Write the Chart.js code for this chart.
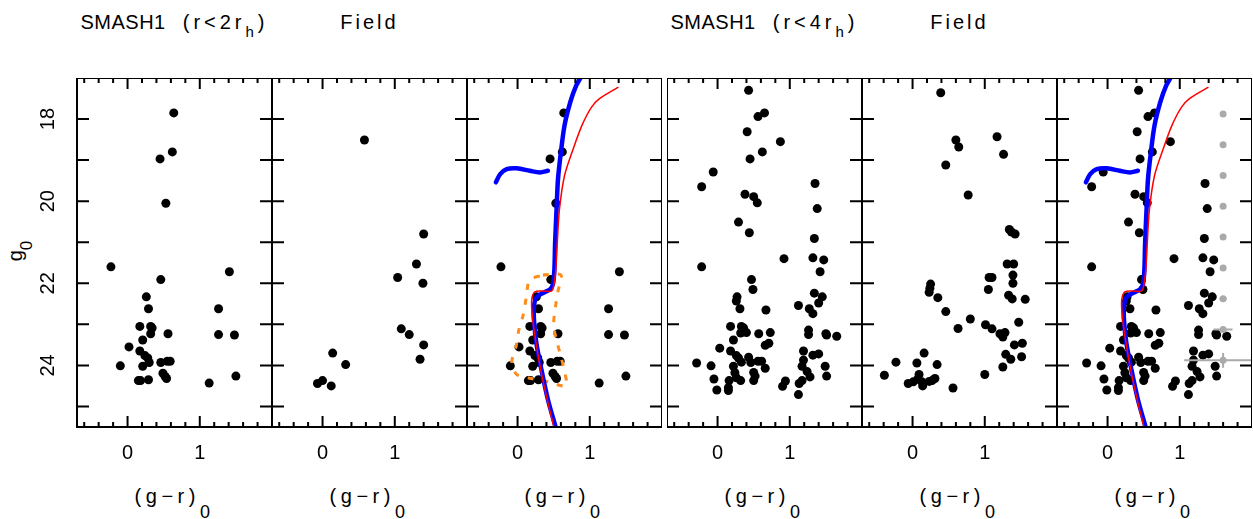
<!DOCTYPE html>
<html>
<head>
<meta charset="utf-8">
<title>SMASH1 CMDs</title>
<script src="https://cdn.jsdelivr.net/npm/chart.js@4.4.1/dist/chart.umd.min.js"></script>
<style>
  body { margin: 0; background: #fff; }
  #fig { position: relative; width: 1253px; height: 519px; overflow: hidden; font-family: "Liberation Sans", Arial, sans-serif; color: #000; }
  .panel { position: absolute; top: 78px; height: 389px; }
  .title, .xlab { position: absolute; width: 195px; text-align: center; font-size: 20px; line-height: 20px; white-space: nowrap; }
  .title { top: 12px; letter-spacing: 3px; }
  .title .nm { letter-spacing: 0.5px; margin-right: 17px; }
  .title .rr { letter-spacing: 4px; }
  .xlab { top: 486px; letter-spacing: 4.5px; }
  .title sub { font-size: 15px; vertical-align: -8px; line-height: 0; }
  .xlab sub { font-size: 18px; vertical-align: -15px; line-height: 0; }
  .ylab { position: absolute; left: -4px; top: 240px; width: 40px; text-align: center; font-size: 20px; line-height: 20px; transform: rotate(-90deg); }
  .ylab sub { font-size: 17px; vertical-align: -10px; line-height: 0; }
</style>
</head>
<body>
<div id="fig">
  <div class="ylab">g<sub>0</sub></div>
</div>
<script>
// stars [(g-r)0, g0]
const smashInner = [
  [0.64, 17.85], [0.62, 18.80], [0.45, 18.97], [0.53, 20.05], [-0.23, 21.60], [1.41, 21.72],
  [0.46, 21.91], [0.26, 22.33], [0.29, 22.62], [1.26, 22.62], [0.17, 23.05], [0.32, 23.05],
  [0.34, 23.09], [0.32, 23.23], [0.56, 23.23], [1.26, 23.25], [1.48, 23.26], [0.21, 23.38],
  [0.02, 23.55], [0.17, 23.65], [0.24, 23.76], [0.28, 23.82], [0.30, 23.93], [0.46, 23.93],
  [0.55, 23.90], [0.59, 23.90], [-0.10, 24.01], [0.21, 24.02], [0.49, 24.19], [0.52, 24.27],
  [0.54, 24.32], [1.50, 24.26], [0.15, 24.37], [0.18, 24.37], [0.29, 24.35], [1.13, 24.43]
];
const fieldInner = [
  [0.58, 18.51], [1.40, 20.80], [1.30, 21.53], [1.04, 21.86], [1.39, 22.00], [1.09, 23.11],
  [1.20, 23.25], [1.40, 23.50], [1.35, 23.85], [0.14, 23.70], [0.32, 23.98], [-0.07, 24.44],
  [0.00, 24.37], [0.12, 24.50]
];
const smashOuter = [
  [0.43, 17.30], [0.65, 17.85], [0.56, 17.94], [0.41, 18.31], [0.87, 18.55], [0.62, 18.80],
  [0.45, 18.97], [-0.06, 19.29], [-0.22, 19.65], [1.35, 19.57], [0.38, 19.83], [0.50, 19.89],
  [0.55, 20.04], [1.38, 20.18], [0.29, 20.51], [0.44, 20.77], [1.34, 20.91], [0.92, 21.40],
  [1.32, 21.38], [1.47, 21.43], [-0.22, 21.60], [1.42, 21.72], [0.47, 21.91], [0.49, 22.15],
  [1.34, 22.24], [1.45, 22.33], [0.27, 22.33], [0.26, 22.43], [1.40, 22.48], [1.12, 22.54],
  [0.31, 22.62], [1.27, 22.62], [0.67, 22.65], [1.32, 22.74], [0.18, 23.05], [0.33, 23.05],
  [0.36, 23.09], [0.32, 23.21], [0.40, 23.20], [0.57, 23.23], [0.73, 23.20], [1.26, 23.14],
  [1.26, 23.25], [1.50, 23.23], [1.51, 23.26], [1.65, 23.29], [0.22, 23.38], [0.03, 23.58],
  [0.71, 23.46], [0.66, 23.51], [0.18, 23.65], [1.19, 23.65], [1.32, 23.75], [1.40, 23.72],
  [0.26, 23.76], [0.29, 23.82], [0.43, 23.80], [0.33, 23.92], [0.46, 23.93], [0.56, 23.90],
  [0.61, 23.90], [1.19, 23.87], [-0.29, 23.94], [-0.09, 24.01], [0.22, 24.02], [0.66, 24.07],
  [1.17, 24.02], [1.49, 24.02], [0.24, 24.18], [0.50, 24.17], [1.24, 24.15], [0.52, 24.26],
  [1.28, 24.28], [1.51, 24.26], [-0.05, 24.33], [0.26, 24.30], [0.32, 24.37], [0.16, 24.37],
  [0.50, 24.37], [1.17, 24.37], [1.13, 24.44], [0.94, 24.38], [0.90, 24.51], [0.15, 24.54],
  [-0.01, 24.60], [0.15, 24.61], [1.12, 24.71]
];
const fieldOuter = [
  [0.39, 17.36], [0.60, 18.51], [0.64, 18.68], [1.17, 18.43], [1.26, 18.86], [0.46, 19.12],
  [0.77, 19.85], [1.34, 20.69], [1.37, 20.75], [1.42, 20.80], [1.31, 21.53], [1.40, 21.53],
  [1.39, 21.80], [1.39, 22.00], [1.06, 21.86], [1.10, 21.86], [1.05, 22.15], [0.25, 22.02],
  [0.24, 22.12], [0.23, 22.22], [0.35, 22.35], [1.33, 22.29], [1.38, 22.38], [1.56, 22.39],
  [0.46, 22.69], [0.80, 22.87], [0.63, 23.10], [1.01, 23.01], [1.10, 23.11], [1.21, 23.23],
  [1.28, 23.20], [1.25, 23.31], [1.47, 22.95], [1.41, 23.50], [1.52, 23.46], [0.16, 23.70],
  [1.29, 23.73], [1.36, 23.85], [1.51, 23.79], [-0.23, 23.92], [0.06, 23.94], [0.34, 23.98],
  [1.25, 24.04], [-0.39, 24.24], [0.09, 24.22], [0.07, 24.34], [-0.06, 24.44], [0.01, 24.40],
  [0.14, 24.50], [0.13, 24.40], [0.23, 24.39], [0.27, 24.37], [0.31, 24.32], [0.56, 24.55],
  [1.00, 24.22]
];

// isochrones and selection box
const isoBlue = [
  [0.53, 25.52], [0.42, 24.83], [0.33, 24.10], [0.26, 23.45], [0.23, 22.96], [0.225, 22.63],
  [0.24, 22.43], [0.28, 22.31], [0.38, 22.21], [0.45, 22.15], [0.49, 22.02], [0.51, 21.66],
  [0.52, 21.01], [0.54, 20.20], [0.56, 19.46], [0.60, 18.81], [0.65, 18.16], [0.73, 17.59],
  [0.81, 17.19], [0.89, 16.94]
];
const isoBlueHB = [
  [-0.30, 19.54], [-0.24, 19.34], [-0.15, 19.22], [-0.01, 19.20], [0.17, 19.26], [0.31, 19.30],
  [0.42, 19.26]
];
const isoRed = [
  [0.50, 25.48], [0.41, 24.83], [0.32, 24.10], [0.24, 23.28], [0.20, 22.72], [0.197, 22.39],
  [0.24, 22.21], [0.35, 22.19], [0.47, 22.19], [0.50, 22.07], [0.53, 21.66], [0.55, 21.01],
  [0.58, 20.20], [0.65, 19.38], [0.77, 18.73], [0.89, 18.16], [1.02, 17.72], [1.13, 17.51],
  [1.39, 17.23]
];
const selBox = [
  [0.35, 21.80], [0.60, 21.80], [0.56, 22.19], [0.52, 22.63], [0.50, 23.04], [0.55, 23.45],
  [0.61, 23.85], [0.66, 24.22], [0.67, 24.50], [0.42, 24.40], [0.22, 24.33], [-0.01, 24.22],
  [-0.08, 23.93], [-0.02, 23.53], [0.02, 23.12], [0.08, 22.76], [0.12, 22.35], [0.17, 21.92],
  [0.35, 21.80]
];

// photometric errors
const errMag = [17.875, 18.625, 19.375, 20.125, 20.875, 21.625, 22.375, 23.125, 23.875];
const errColor = [0.01, 0.01, 0.01, 0.03, 0.01, 0.04, 0.05, 0.13, 0.54];
const errMagSize = [0.01, 0.01, 0.01, 0.02, 0.02, 0.03, 0.05, 0.07, 0.18];
const errX = 1.6;

const xTickLabels = [0, 1];
const yTickLabels = [18, 20, 22, 24];

const FONT = '"Liberation Sans", Arial, sans-serif';
const PW = 195, PH = 349, YAXW = 60;

const panels = [
  { left: 77, stars: smashInner, title: '<span class="nm">SMASH1</span><span class="rr">(r&lt;2r<sub>h</sub>)</span>', yAxis: true },
  { left: 272, stars: fieldInner, title: 'Field' },
  { left: 467, stars: smashInner, iso: true, box: true },
  { left: 667, stars: smashOuter, title: '<span class="nm">SMASH1</span><span class="rr">(r&lt;4r<sub>h</sub>)</span>' },
  { left: 862, stars: fieldOuter, title: 'Field' },
  { left: 1057, stars: smashOuter, iso: true, errors: true }
];

const pts = (list) => list.map(([c, g]) => ({ x: c, y: g }));

const framePlugin = {
  id: 'frame',
  afterDraw(chart) {
    const { ctx, chartArea: a, scales: { x, y } } = chart;
    ctx.save();
    ctx.strokeStyle = '#000';
    ctx.lineWidth = 2;
    ctx.strokeRect(a.left, a.top, a.right - a.left, a.bottom - a.top);
    ctx.beginPath();
    for (let i = -3; i <= 10; i++) {
      const px = x.getPixelForValue(i * 0.2);
      const len = i % 5 === 0 ? 11 : 5;
      ctx.moveTo(px, a.bottom); ctx.lineTo(px, a.bottom - len);
      ctx.moveTo(px, a.top); ctx.lineTo(px, a.top + len);
    }
    for (let m = 18; m <= 25; m++) {
      const py = y.getPixelForValue(m);
      ctx.moveTo(a.left, py); ctx.lineTo(a.left + 12, py);
      ctx.moveTo(a.right, py); ctx.lineTo(a.right - 12, py);
    }
    ctx.stroke();
    ctx.restore();
  }
};

function curve(list, color, width, order, dash) {
  return {
    data: pts(list), showLine: true, pointRadius: 0, borderColor: color, borderWidth: width,
    tension: 0.3, borderDash: dash || [], borderCapStyle: dash ? 'butt' : 'round', order
  };
}

const fig = document.getElementById('fig');

panels.forEach((p) => {
  const extra = p.yAxis ? YAXW : 0;
  const box = document.createElement('div');
  box.className = 'panel';
  box.style.left = (p.left - extra) + 'px';
  box.style.width = (PW + extra) + 'px';
  const canvas = document.createElement('canvas');
  box.appendChild(canvas);
  fig.appendChild(box);

  if (p.title) {
    const t = document.createElement('div');
    t.className = 'title';
    t.style.left = p.left + 'px';
    t.innerHTML = p.title;
    fig.appendChild(t);
  }
  const xl = document.createElement('div');
  xl.className = 'xlab';
  xl.style.left = p.left + 'px';
  xl.innerHTML = '(g&minus;r)<sub>0</sub>';
  fig.appendChild(xl);

  const datasets = [{
    data: pts(p.stars), pointRadius: 4.5, pointBackgroundColor: '#000', pointBorderWidth: 0, order: 10
  }];
  if (p.iso) {
    datasets.push(curve(isoRed, '#ff0000', 1.5, 1));
    datasets.push(curve(isoBlue, '#0000ff', 4.5, 2));
    datasets.push(curve(isoBlueHB, '#0000ff', 4.5, 2));
  }
  if (p.box) {
    datasets.push(curve(selBox, '#ff8c1a', 3, 3, [6, 9]));
  }
  if (p.errors) {
    const hBars = [], vBars = [];
    errMag.forEach((m, i) => {
      hBars.push({ x: errX - errColor[i], y: m }, { x: errX + errColor[i], y: m }, { x: errX, y: null });
      vBars.push({ x: errX, y: m - errMagSize[i] }, { x: errX, y: m + errMagSize[i] }, { x: errX, y: null });
    });
    datasets.push({ data: hBars, showLine: true, spanGaps: false, pointRadius: 0, borderColor: '#aaaaaa', borderWidth: 2, order: 0 });
    datasets.push({ data: vBars, showLine: true, spanGaps: false, pointRadius: 0, borderColor: '#aaaaaa', borderWidth: 2, order: 0 });
    datasets.push({
      data: errMag.map((m) => ({ x: errX, y: m })), pointRadius: 3.5,
      pointBackgroundColor: '#aaaaaa', pointBorderWidth: 0, order: 0
    });
  }

  new Chart(canvas, {
    type: 'scatter',
    data: { datasets },
    options: {
      responsive: true,
      maintainAspectRatio: false,
      animation: false,
      layout: { padding: 0, autoPadding: false },
      plugins: { legend: { display: false }, tooltip: { enabled: false } },
      scales: {
        x: {
          type: 'linear', min: -0.7, max: 2.0,
          grid: { display: false, drawTicks: false },
          border: { display: false },
          ticks: {
            stepSize: 0.2, autoSkip: false, maxRotation: 0, padding: 14, color: '#000',
            font: { family: FONT, size: 20 },
            callback: (v) => {
              const r = Math.round(v);
              return Math.abs(v - r) < 1e-6 && xTickLabels.includes(r) ? String(r) : '';
            }
          },
          afterFit: (s) => {
            s.height = 389 - PH;
            s.paddingLeft = 0; s.paddingRight = 0;
          }
        },
        y: {
          type: 'linear', min: 17, max: 25.5, reverse: true, display: !!p.yAxis,
          grid: { display: false, drawTicks: false },
          border: { display: false },
          ticks: {
            stepSize: 1, autoSkip: false, minRotation: 90, maxRotation: 90, crossAlign: 'center',
            padding: 17, color: '#000', font: { family: FONT, size: 20 },
            callback: (v) => yTickLabels.includes(v) ? String(v) : ''
          },
          afterFit: (s) => {
            s.width = p.yAxis ? YAXW : 0;
            s.paddingTop = 0; s.paddingBottom = 0;
          }
        }
      }
    },
    plugins: [framePlugin]
  });
});
</script>
</body>
</html>
